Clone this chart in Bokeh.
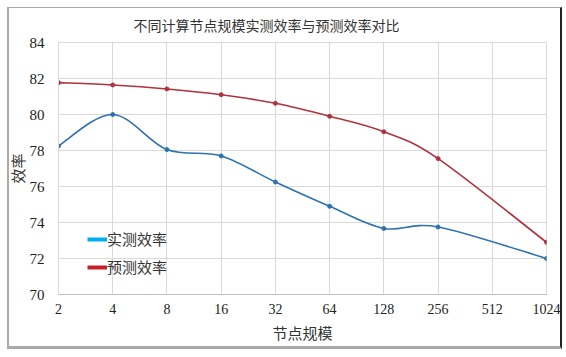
import math
from bokeh.plotting import figure
from bokeh.models import (Range1d, FixedTicker, NumeralTickFormatter, Legend, LegendItem,
                          ColumnDataSource, InlineStyleSheet)
from bokeh.embed import file_html
from bokeh.resources import INLINE

# ---- data ----
nodes = [2, 4, 8, 16, 32, 64, 128, 256, 1024]
measured = [78.25, 80.0, 78.05, 77.7, 76.25, 74.9, 73.67, 73.75, 72.0]
predicted = [81.77, 81.64, 81.42, 81.1, 80.62, 79.9, 79.04, 77.55, 72.9]
x_ticks = [2, 4, 8, 16, 32, 64, 128, 256, 512, 1024]
y_ticks = [70, 72, 74, 76, 78, 80, 82, 84]
title_text = "不同计算节点规模实测效率与预测效率对比"
x_label = "节点规模"
y_label = "效率"
series_names = ["实测效率", "预测效率"]

FONT = "'Liberation Serif', 'Noto Sans CJK SC', serif"
LINE_BLUE = "#2E72B0"
LINE_RED = "#B0323F"
LEG_BLUE = "#00AEEF"
LEG_RED = "#C8202A"


def smooth_segments(xs, ys):
    """Excel-like smoothed line: cubic Bezier control points computed in log2(x) space."""
    u = [math.log2(v) for v in xs]
    n = len(u)
    out = {k: [] for k in ["x0", "y0", "x1", "y1", "cx0", "cy0", "cx1", "cy1"]}
    for i in range(n - 1):
        p0 = (u[i - 1], ys[i - 1]) if i > 0 else (u[i], ys[i])
        p1 = (u[i], ys[i])
        p2 = (u[i + 1], ys[i + 1])
        p3 = (u[i + 2], ys[i + 2]) if i + 2 < n else p2
        c1 = (p1[0] + (p2[0] - p0[0]) / 6, p1[1] + (p2[1] - p0[1]) / 6)
        c2 = (p2[0] - (p3[0] - p1[0]) / 6, p2[1] - (p3[1] - p1[1]) / 6)
        out["x0"].append(2 ** p1[0]); out["y0"].append(p1[1])
        out["x1"].append(2 ** p2[0]); out["y1"].append(p2[1])
        out["cx0"].append(2 ** c1[0]); out["cy0"].append(c1[1])
        out["cx1"].append(2 ** c2[0]); out["cy1"].append(c2[1])
    return ColumnDataSource(out)


frame_css = InlineStyleSheet(css="""
:host { position: relative; }
:host::after {
  content: ""; position: absolute; left: 7px; top: 7px; width: 555px; height: 342px;
  box-sizing: border-box; pointer-events: none;
  border-left: 2px solid #aaaaaa; border-top: 1px solid #aaaaaa;
  border-right: 2px solid #222222; border-bottom: 3px solid #aaaaaa;
}
""")

p = figure(width=566, height=357, x_axis_type="log",
           x_range=Range1d(2, 1024), y_range=Range1d(70, 84),
           output_backend="svg", toolbar_location=None,
           min_border_left=58, min_border_right=20, min_border_top=42, min_border_bottom=63)
p.stylesheets = [frame_css]

p.title.text = title_text
p.title.text_font = FONT
p.title.text_font_size = "14px"
p.title.text_font_style = "normal"
p.title.text_color = "#333333"
p.title.align = "left"
p.title.offset = 75
p.title.standoff = 17

p.outline_line_color = "#d9d9d9"
p.background_fill_color = "white"
p.border_fill_color = "white"

p.xaxis.ticker = FixedTicker(ticks=x_ticks)
p.xgrid.ticker = FixedTicker(ticks=x_ticks)
p.xaxis.formatter = NumeralTickFormatter(format="0")
p.yaxis.ticker = FixedTicker(ticks=y_ticks)
p.ygrid.ticker = FixedTicker(ticks=y_ticks)
p.xgrid.grid_line_color = "#d9d9d9"
p.ygrid.grid_line_color = "#d9d9d9"
p.xaxis.axis_line_color = "#bfbfbf"
p.yaxis.axis_line_color = "#d9d9d9"
for ax in (p.xaxis, p.yaxis):
    ax.major_tick_line_color = None
    ax.minor_tick_line_color = None
    ax.major_label_text_font = FONT
    ax.major_label_text_color = "#222222"
    ax.axis_label_text_font = FONT
    ax.axis_label_text_font_size = "15px"
    ax.axis_label_text_font_style = "normal"
    ax.axis_label_text_color = "#333333"
p.xaxis.major_label_text_font_size = "14px"
p.yaxis.major_label_text_font_size = "15px"
p.xaxis.axis_label = x_label
p.yaxis.axis_label = y_label
p.xaxis.major_label_standoff = 3
p.xaxis.axis_label_standoff = 9
p.yaxis.major_label_standoff = 8
p.yaxis.axis_label_standoff = 0

# smoothed lines
p.bezier(x0="x0", y0="y0", x1="x1", y1="y1", cx0="cx0", cy0="cy0", cx1="cx1", cy1="cy1",
         source=smooth_segments(nodes, predicted), line_color=LINE_RED, line_width=1.6)
p.bezier(x0="x0", y0="y0", x1="x1", y1="y1", cx0="cx0", cy0="cy0", cx1="cx1", cy1="cy1",
         source=smooth_segments(nodes, measured), line_color=LINE_BLUE, line_width=1.6)
p.scatter(nodes, predicted, size=4, color=LINE_RED)
p.scatter(nodes, measured, size=4, color=LINE_BLUE)

# legend proxies
nan = float("nan")
lb = p.line([nan], [nan], line_color=LEG_BLUE, line_width=4)
lr = p.line([nan], [nan], line_color=LEG_RED, line_width=4)
legend = Legend(items=[LegendItem(label=series_names[0], renderers=[lb]),
                       LegendItem(label=series_names[1], renderers=[lr])],
                location=(29, 17), orientation="vertical")
legend.background_fill_alpha = 0
legend.border_line_color = None
legend.padding = 0
legend.margin = 0
legend.spacing = 7
legend.glyph_width = 20
legend.glyph_height = 20
legend.label_height = 20
legend.label_standoff = 0
legend.label_text_font = FONT
legend.label_text_font_size = "15px"
legend.label_text_color = "#333333"
p.add_layout(legend, "center")

open("out.html", "w").write(file_html(p, INLINE))
